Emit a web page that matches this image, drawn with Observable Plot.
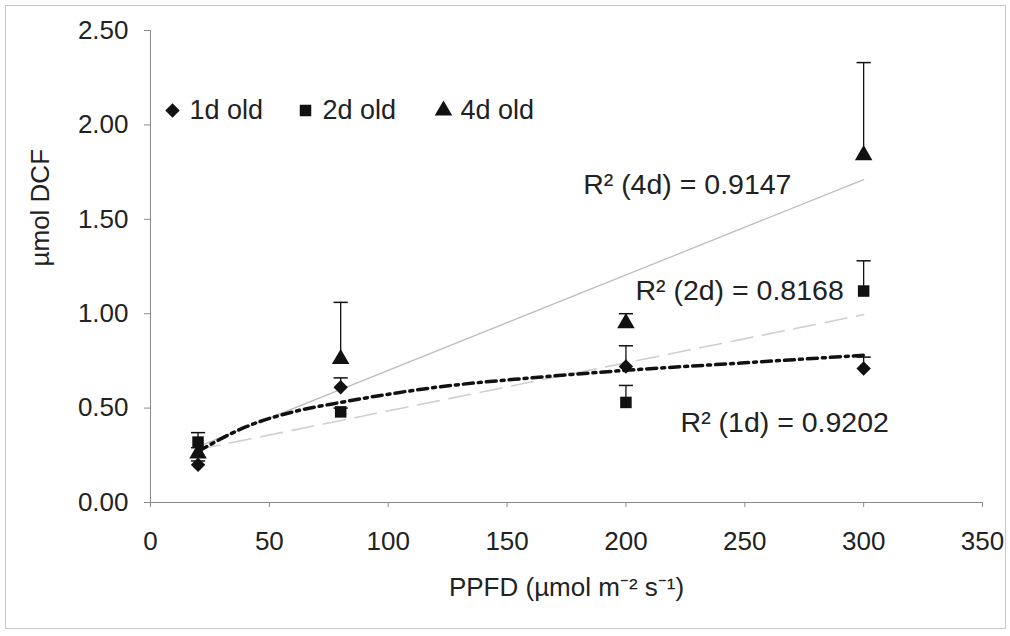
<!DOCTYPE html>
<html><head><meta charset="utf-8">
<script src="https://cdn.jsdelivr.net/npm/d3@7"></script>
<script src="https://cdn.jsdelivr.net/npm/@observablehq/plot@0.6"></script>
<style>
html,body{margin:0;padding:0;background:#fff;}
#chart svg{display:block;}
</style></head><body><div id="chart"></div>
<script>
// ---- data ----
const ppfd = [20, 80, 200, 300];
const mean1d = [0.20, 0.61, 0.72, 0.71];
const err1d  = [0.02, 0.05, 0.11, 0.06];
const mean2d = [0.32, 0.48, 0.53, 1.12];
const err2d  = [0.05, 0.02, 0.09, 0.16];
const mean4d = [0.26, 0.76, 0.95, 1.84];
const err4d  = [0.03, 0.30, 0.05, 0.49];
const seriesNames = ["1d old", "2d old", "4d old"];
const seriesSymbols = ["diamond2", "square", "triangle"];
// 1d trend curve (logarithmic)
const trend1dX = [20, 40, 60, 80, 120, 160, 200, 250, 300];
const trend1dY = [0.27, 0.40, 0.48, 0.53, 0.61, 0.66, 0.70, 0.74, 0.78];
const r2Labels = ["R\u00b2 (4d) = 0.9147", "R\u00b2 (2d) = 0.8168", "R\u00b2 (1d) = 0.9202"];
const xTicks = [0, 50, 100, 150, 200, 250, 300, 350];
const yTicks = [0, 0.5, 1.0, 1.5, 2.0, 2.5];
const xTitle = "PPFD (\u00b5mol m\u207b\u00b2 s\u207b\u00b9)";
const yTitle = "\u00b5mol DCF";

// ---- build rows ----
const means = [mean1d, mean2d, mean4d];
const errs = [err1d, err2d, err4d];
const rows = [];
means.forEach((m, s) => ppfd.forEach((x, i) => rows.push({
  series: seriesNames[s], symbol: seriesSymbols[s], x, y: m[i], top: m[i] + errs[s][i]
})));
const rowsOf = name => rows.filter(d => d.series === name);
const trend1d = trend1dX.map((x, i) => ({x, y: trend1dY[i]}));
const annot = [
  {label: r2Labels[0], x: 182, y: 1.68},
  {label: r2Labels[1], x: 204, y: 1.12},
  {label: r2Labels[2], x: 223, y: 0.42}
];

const capSymbol = {
  draw(ctx, size) { const w = Math.sqrt(size) / 2; ctx.moveTo(-w, 0); ctx.lineTo(w, 0); }
};

const FONT = "'Liberation Sans', Arial, sans-serif";
const legendDx = [22, 155, 293];

const marks = [
  Plot.frame({stroke: "#c8c8c8", insetLeft: -145, insetRight: -23, insetTop: -25, insetBottom: -126}),
  Plot.ruleY([0], {stroke: "#8a8a8a"}),
  Plot.ruleX([0], {stroke: "#8a8a8a"}),
  Plot.axisY({ticks: yTicks, tickFormat: d3.format(".2f"), tickSize: 6, tickPadding: 16, fontSize: 26, stroke: "#8a8a8a", label: null}),
  Plot.axisX({ticks: xTicks, tickSize: 5, tickPadding: 24, fontSize: 26, stroke: "#8a8a8a", label: null}),
  Plot.text([yTitle], {frameAnchor: "left", dx: -110, rotate: -90, fontSize: 26, fill: "#222"}),
  Plot.text([xTitle], {frameAnchor: "bottom", dy: 93, fontSize: 26, fill: "#222"}),
  // trendlines
  Plot.linearRegressionY(rowsOf("4d old"), {x: "x", y: "y", stroke: "#bdbdbd", strokeWidth: 1.3, ci: 0}),
  Plot.linearRegressionY(rowsOf("2d old"), {x: "x", y: "y", stroke: "#cfcfcf", strokeWidth: 1.6, strokeDasharray: "22,10", ci: 0}),
  Plot.line(trend1d, {x: "x", y: "y", curve: "monotone-x", stroke: "#111", strokeWidth: 3.5, strokeDasharray: "10,5,3,5"}),
  // error bars
  Plot.ruleX(rows, {x: "x", y1: "y", y2: "top", stroke: "#111", strokeWidth: 1.3}),
  Plot.dot(rows, {x: "x", y: "top", symbol: capSymbol, r: 8, stroke: "#111", strokeWidth: 1.5, fill: "none"}),
  // markers
  Plot.dot(rows, {x: "x", y: "y", symbol: "symbol", r: 6.5, fill: "#111", stroke: "none"}),
  // annotations
  Plot.text(annot, {x: "x", y: "y", text: "label", textAnchor: "start", fontSize: 28.5, fill: "#222"})
];
// legend inside the plot
seriesNames.forEach((name, i) => {
  marks.push(Plot.dot([name], {frameAnchor: "top-left", dx: legendDx[i], dy: 80, symbol: seriesSymbols[i], r: 6.5, fill: "#111", stroke: "none"}));
  marks.push(Plot.text([name], {frameAnchor: "top-left", dx: legendDx[i] + 17, dy: 80, lineAnchor: "middle", textAnchor: "start", fontSize: 27, fill: "#222"}));
});

const chart = Plot.plot({
  width: 1010, height: 636,
  marginLeft: 150, marginRight: 28, marginTop: 30, marginBottom: 134,
  style: {fontFamily: FONT, background: "#fff", color: "#222"},
  x: {domain: [0, 350]},
  y: {domain: [0, 2.5]},
  symbol: {type: "identity"},
  marks
});
document.getElementById("chart").appendChild(chart);
</script></body></html>
